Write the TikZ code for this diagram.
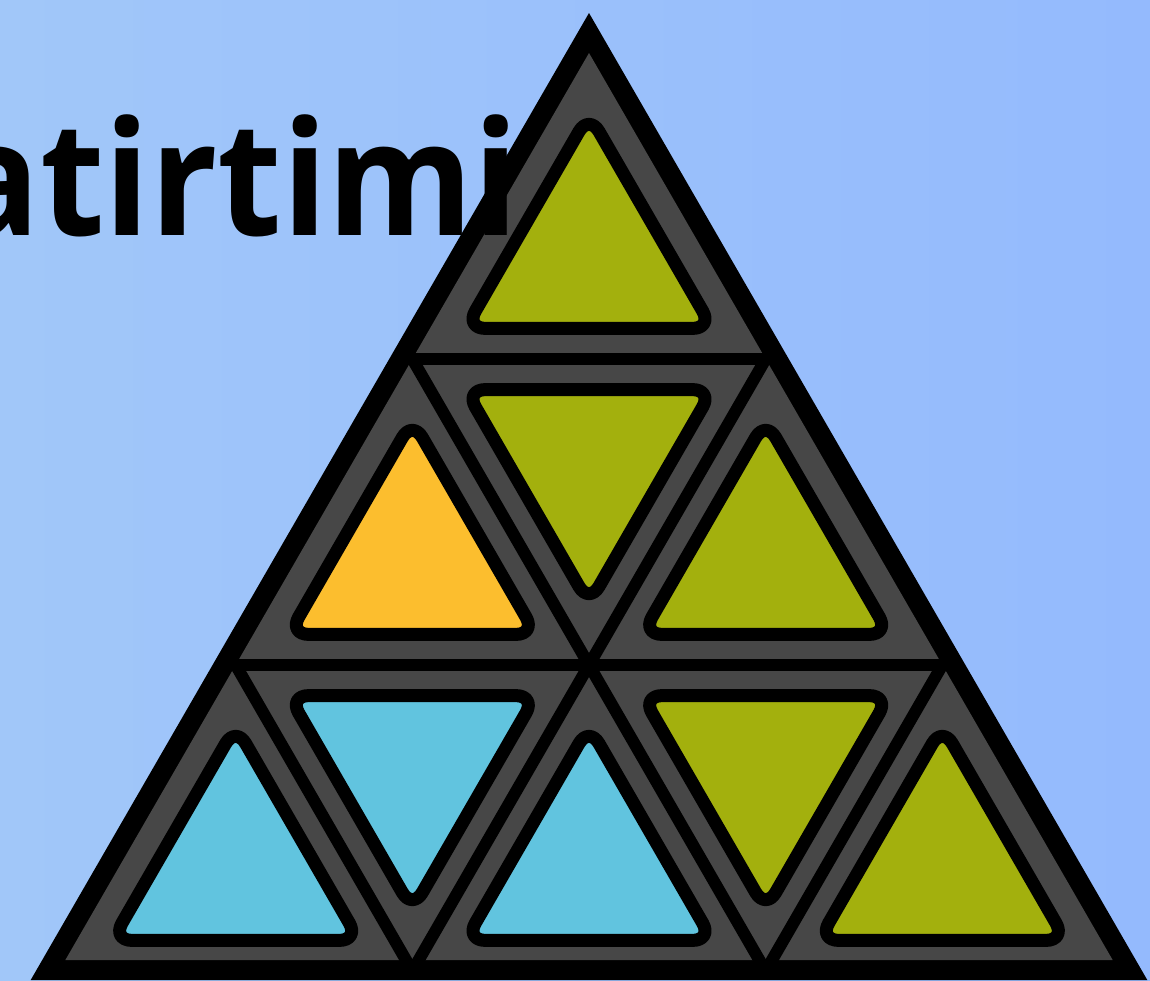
\documentclass[tikz,border=0pt]{standalone}
\usepackage{fontspec}
\usepackage{graphicx}
\newfontfamily\titlefont{Open Sans}
\usetikzlibrary{calc}
\definecolor{bgL}{RGB}{161,199,249}
\definecolor{bgR}{RGB}{148,186,253}
\definecolor{tilegray}{RGB}{71,71,71}
\definecolor{olive}{RGB}{163,176,13}
\definecolor{amber}{RGB}{252,190,46}
\definecolor{sky}{RGB}{97,196,223}
\newcommand\mycell[4]{%
  \coordinate (cc) at (barycentric cs:#1=1,#2=1,#3=1);
  \draw[tile,fill=#4] ($(cc)!0.70!(#1)$) -- ($(cc)!0.70!(#2)$) -- ($(cc)!0.70!(#3)$) -- cycle;
}
\begin{document}
\begin{tikzpicture}[x=1pt,y=-1pt,
  gridline/.style={line width=12pt, draw=black, shorten <=-10pt, shorten >=-6pt},
  tile/.style={line width=13pt, draw=black, rounded corners=20pt, line join=round}]
\useasboundingbox (0,0) rectangle (1150,980);
\clip (0,0) rectangle (1150,980);
\shade[left color=bgL, right color=bgR] (0,0) rectangle (1150,980);
% grid points
\coordinate (P00) at (589,53);
\coordinate (P10) at (412.33,359);
\coordinate (P11) at (765.67,359);
\coordinate (P20) at (235.67,665);
\coordinate (P21) at (589,665);
\coordinate (P22) at (942.33,665);
\coordinate (P30) at (59,971);
\coordinate (P31) at (412.33,971);
\coordinate (P32) at (765.67,971);
\coordinate (P33) at (1119,971);
% outer frame and grey body
\fill[black] (589,13) -- (30.7,980) -- (1147.3,980) -- cycle;
\fill[tilegray] (589,53) -- (65.34,960) -- (1112.66,960) -- cycle;
% internal dividing lines
\draw[gridline] (P10) -- (P11);
\draw[gridline] (P20) -- (P22);
\draw[gridline] (P11) -- (P31);
\draw[gridline] (P22) -- (P32);
\draw[gridline] (P10) -- (P32);
\draw[gridline] (P20) -- (P31);
% coloured tiles
\mycell{P00}{P10}{P11}{olive}
\mycell{P10}{P20}{P21}{amber}
\mycell{P10}{P11}{P21}{olive}
\mycell{P11}{P21}{P22}{olive}
\mycell{P20}{P30}{P31}{sky}
\mycell{P20}{P21}{P31}{sky}
\mycell{P21}{P31}{P32}{sky}
\mycell{P21}{P22}{P32}{olive}
\mycell{P22}{P32}{P33}{olive}
% title text, drawn over the frame
\node[anchor=base east, inner sep=0pt] (title) at (519,235)
  {\titlefont\bfseries\fontsize{159}{159}\selectfont\scalebox{0.935}[1]{atirtimi}};
\end{tikzpicture}
\end{document}
